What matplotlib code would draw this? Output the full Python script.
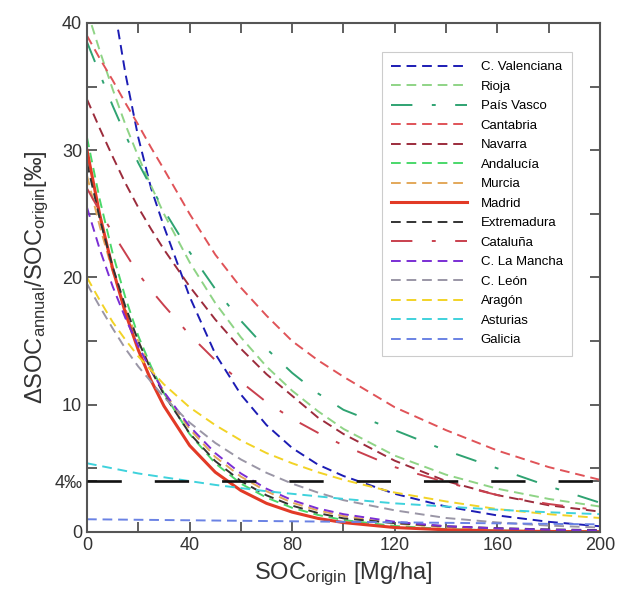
import numpy as np
import matplotlib
matplotlib.use('Agg')
import matplotlib.pyplot as plt
from matplotlib.ticker import FixedLocator

plt.rcParams['font.family'] = ['Liberation Sans', 'DejaVu Sans']
plt.rcParams['mathtext.fontset'] = 'custom'
plt.rcParams['mathtext.rm'] = 'Liberation Sans'
plt.rcParams['mathtext.it'] = 'Liberation Sans:italic'

# SOC_origin grid [Mg/ha] and read-off curves [per mille]
soc = [0, 5, 10, 15, 20, 25, 30, 40, 50, 60, 70, 80, 90, 100, 120, 140, 160, 180, 200]

valenciana = [58, 50, 42, 36, 31, 27, 24, 18.5, 14, 10.8, 8.4, 6.6, 5.3, 4.4, 3.0, 2.0, 1.3, 0.8, 0.45]
rioja = [41, 37.8, 34.8, 32, 29.5, 27.2, 25.0, 21.2, 18.0, 15.3, 13.0, 11.1, 9.5, 8.1, 6.0, 4.5, 3.4, 2.6, 2.0]
pais_vasco = [38.5, 36, 33.5, 31.2, 29.0, 27.1, 25.3, 22.0, 19.1, 16.6, 14.4, 12.5, 10.9, 9.6, 8.0, 6.4, 5.0, 3.6, 2.3]
cantabria = [39, 37.2, 35.5, 33.7, 32, 30.2, 28.5, 25, 21.8, 19.2, 17, 15, 13.5, 12.2, 9.8, 8.0, 6.4, 5.1, 4.1]
navarra = [34, 31.7, 29.5, 27.4, 25.5, 23.8, 22.2, 19.3, 16.7, 14.4, 12.4, 10.7, 9.0, 7.7, 5.6, 4.0, 2.9, 2.1, 1.6]
andalucia = [31, 26.1, 21.9, 18.4, 15.4, 13.0, 10.9, 7.7, 5.4, 3.8, 2.7, 1.9, 1.34, 0.94, 0.47, 0.23, 0.12, 0.06, 0.03]
murcia = [28, 24.0, 20.5, 17.5, 15.0, 12.8, 11.0, 8.1, 5.9, 4.35, 3.2, 2.3, 1.7, 1.25, 0.67, 0.36, 0.19, 0.1, 0.06]
madrid = [30, 24.9, 20.7, 17.2, 14.3, 11.9, 9.9, 6.8, 4.7, 3.26, 2.25, 1.56, 1.07, 0.74, 0.35, 0.17, 0.08, 0.04, 0.02]
extremadura = [29, 24.6, 20.85, 17.7, 15.0, 12.7, 10.8, 7.75, 5.57, 4.0, 2.88, 2.07, 1.49, 1.07, 0.7, 0.45, 0.3, 0.2, 0.15]
cataluna = [27, 25.2, 23.5, 21.9, 20.3, 19.0, 17.8, 15.5, 13.5, 11.8, 10.2, 8.9, 7.8, 6.8, 5.1, 3.9, 2.9, 2.2, 1.7]
la_mancha = [25.5, 22.2, 19.3, 16.8, 14.6, 12.7, 11.0, 8.3, 6.2, 4.6, 3.4, 2.5, 1.85, 1.4, 0.8, 0.45, 0.28, 0.18, 0.12]
leon = [19.5, 17.7, 16, 14.4, 13, 11.8, 10.6, 8.6, 7.0, 5.7, 4.65, 3.8, 3.1, 2.5, 1.7, 1.1, 0.75, 0.5, 0.35]
aragon = [20, 18.2, 16.5, 15.1, 13.8, 12.7, 11.6, 9.8, 8.4, 7.2, 6.2, 5.4, 4.7, 4.1, 3.1, 2.4, 1.8, 1.4, 1.1]
asturias = [5.4, 5.2, 5.0, 4.8, 4.6, 4.45, 4.3, 4.0, 3.7, 3.45, 3.2, 3.0, 2.8, 2.6, 2.25, 2.0, 1.75, 1.55, 1.4]
galicia = [1.0, 0.99, 0.98, 0.97, 0.96, 0.95, 0.94, 0.92, 0.9, 0.88, 0.86, 0.84, 0.82, 0.8, 0.76, 0.72, 0.68, 0.64, 0.6]

threshold = 4  # 4 per mille target

dash = (5, 3)
dashdot = (11, 10, 2, 10)
series = [
    ('C. Valenciana', valenciana, '#1c1cb4', dash),
    ('Rioja', rioja, '#8fd486', dash),
    ('País Vasco', pais_vasco, '#2fa372', dashdot),
    ('Cantabria', cantabria, '#e05358', dash),
    ('Navarra', navarra, '#9c2c3c', dash),
    ('Andalucía', andalucia, '#4ad86a', dash),
    ('Murcia', murcia, '#e3a85a', dash),
    ('Madrid', madrid, '#e23a26', None),
    ('Extremadura', extremadura, '#333333', dash),
    ('Cataluña', cataluna, '#c9404e', dashdot),
    ('C. La Mancha', la_mancha, '#7a2ed4', dash),
    ('C. León', leon, '#9a96a6', dash),
    ('Aragón', aragon, '#f2d326', dash),
    ('Asturias', asturias, '#3fd2dc', dash),
    ('Galicia', galicia, '#6a82e4', dash),
]

fig = plt.figure(figsize=(6.17, 5.94), dpi=100)
ax = fig.add_axes([0.141, 0.1044, 0.8314, 0.8569])

for name, vals, col, ds in series:
    if ds is None:
        ax.plot(soc, vals, color=col, lw=2.2, label=name)
    else:
        ax.plot(soc, vals, color=col, lw=1.4, dashes=ds, label=name)

# 4 per mille reference line drawn over the curves
ax.axhline(threshold, color='#111111', lw=1.9, dashes=(13, 12.5), zorder=3)

ax.set_xlim(0, 200)
ax.set_ylim(0, 40)
ax.set_xticks([0, 40, 80, 120, 160, 200])
ax.xaxis.set_minor_locator(FixedLocator([20, 60, 100, 140, 180]))
ax.set_yticks([0, 4, 10, 20, 30, 40])
ax.set_yticklabels(['0', '4‰', '10', '20', '30', '40'])
ax.yaxis.set_minor_locator(FixedLocator([5, 15, 25, 35]))
ax.tick_params(which='both', direction='in', top=True, right=True,
               length=7, width=1.2, color='#444444', labelsize=13, labelcolor='#333333')
for s in ax.spines.values():
    s.set_color('#555555')
    s.set_linewidth(1.5)

ax.set_xlabel(r'SOC$_{\mathrm{origin}}$ [Mg/ha]', fontsize=17, color='#333333', labelpad=5)
ax.set_ylabel(r'$\Delta$SOC$_{\mathrm{annual}}$/SOC$_{\mathrm{origin}}$[‰]', fontsize=17,
              color='#333333', labelpad=2)

leg = ax.legend(loc='upper right', bbox_to_anchor=(0.945, 0.943), borderaxespad=0,
                fontsize=9.5, handlelength=5.8, handletextpad=1.0, labelspacing=0.55,
                fancybox=False, framealpha=1, edgecolor='#cccccc', borderpad=0.7)
leg.get_frame().set_linewidth(0.8)
leg.set_zorder(5)

fig.savefig('out.png', dpi=100)
